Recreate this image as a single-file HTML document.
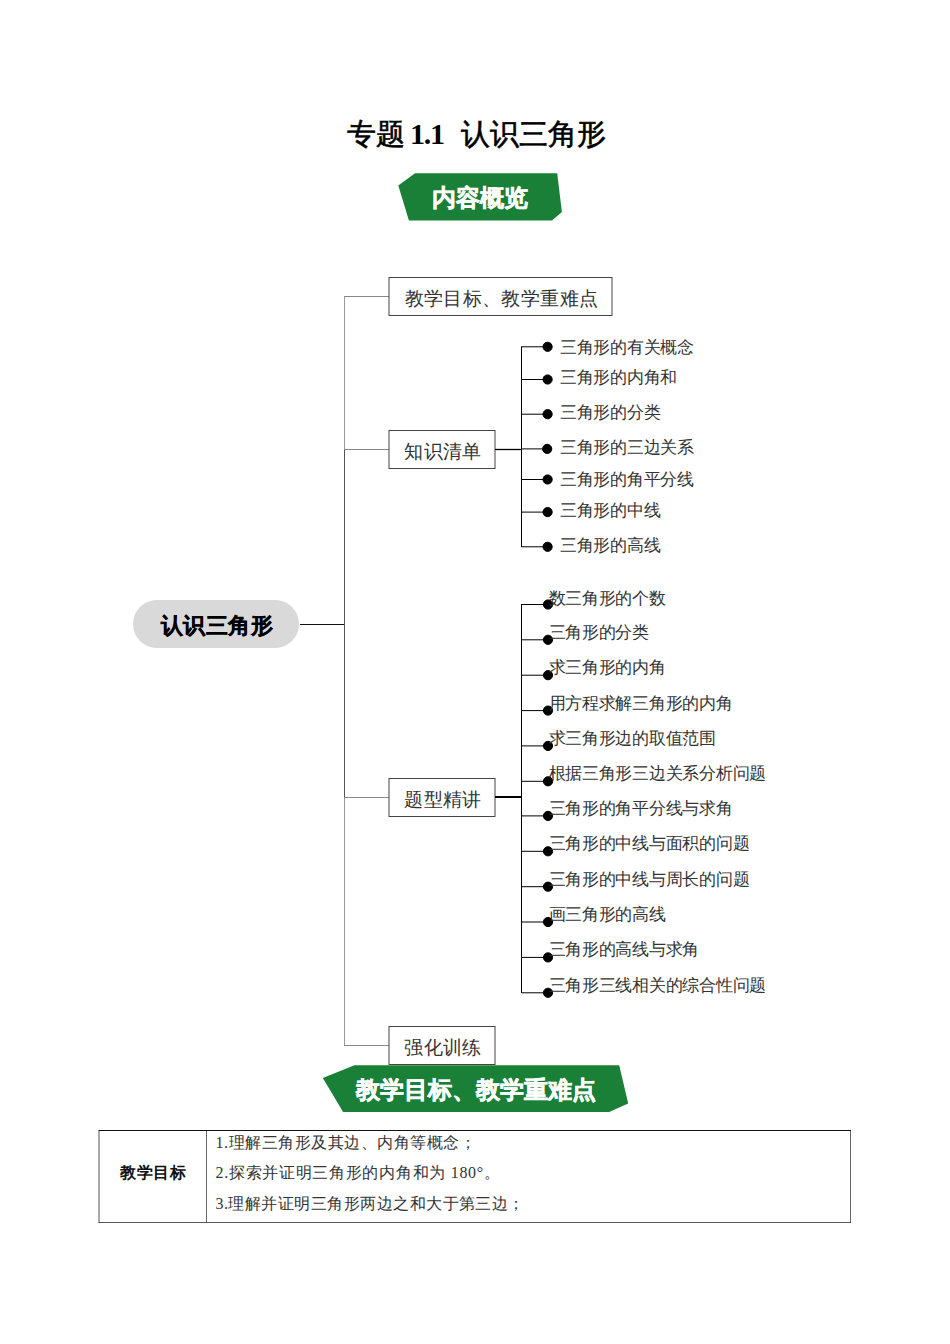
<!DOCTYPE html>
<html>
<head>
<meta charset="utf-8">
<style>
html,body{margin:0;padding:0;background:#fff;}
body{width:950px;height:1344px;position:relative;overflow:hidden;font-family:"Liberation Serif",serif;color:#000;}
.t{position:absolute;white-space:nowrap;line-height:20px;height:20px;}
.c{text-align:center;}
svg{position:absolute;left:0;top:0;}
.title{position:absolute;top:114px;white-space:nowrap;font-size:29px;font-weight:bold;line-height:40px;}
.ban{color:#fff;font-family:"Liberation Sans",sans-serif;font-weight:bold;font-size:24px;line-height:30px;-webkit-text-stroke:0.5px #fff;}
.tc{font-weight:normal;-webkit-text-stroke:0.6px #000;}
.num{font-size:30px;letter-spacing:-1.2px;}
.root{position:absolute;left:133.2px;top:599.7px;width:166.2px;height:48.6px;border-radius:24.3px;text-indent:1px;background:#d9d9d9;font-family:"Liberation Sans",sans-serif;font-weight:bold;font-size:22px;line-height:52px;letter-spacing:0.5px;-webkit-text-stroke:0.3px #000;text-align:center;}
.box{font-size:19px;letter-spacing:0.4px;color:#333;}
.li{font-size:17px;letter-spacing:-0.27px;color:#333;}
.tb{font-size:16px;letter-spacing:0.55px;color:#333;}
</style>
</head>
<body>
<div class="title tc" style="left:347px;">专题</div><div class="title num" style="left:410px;">1.1</div><div class="title tc" style="left:461px;">认识三角形</div>

<svg width="950" height="1344" viewBox="0 0 950 1344">
  <!-- banners -->
  <polygon points="415,173.3 398.3,185.4 408.9,220.4 552,220.4 561.9,211.9 557.2,173.3" fill="#1a8037"/>
  <polygon points="354.5,1065.2 322.8,1078 343.1,1112 609.2,1112 628.2,1103.6 619.2,1065.2" fill="#1a8037"/>

  <!-- root connector -->
  <line x1="300" y1="624.5" x2="344.5" y2="624.5" stroke="#111" stroke-width="1.2"/>
  <!-- trunk -->
  <line x1="344.5" y1="296" x2="344.5" y2="449.5" stroke="#999" stroke-width="1"/>
  <line x1="344.5" y1="449.5" x2="344.5" y2="797" stroke="#555" stroke-width="1"/>
  <line x1="344.5" y1="797" x2="344.5" y2="1046" stroke="#999" stroke-width="1"/>
  <line x1="344" y1="296.5" x2="389" y2="296.5" stroke="#888" stroke-width="1"/>
  <line x1="344" y1="449.5" x2="389" y2="449.5" stroke="#888" stroke-width="1"/>
  <line x1="344" y1="797.5" x2="389" y2="797.5" stroke="#888" stroke-width="1"/>
  <line x1="344" y1="1045.5" x2="389" y2="1045.5" stroke="#888" stroke-width="1"/>

  <!-- boxes -->
  <rect x="389" y="277.5" width="223" height="38" fill="#fff" stroke="#444" stroke-width="1"/>
  <rect x="389" y="430.5" width="106" height="38" fill="#fff" stroke="#444" stroke-width="1"/>
  <rect x="389" y="778.5" width="106" height="38" fill="#fff" stroke="#444" stroke-width="1"/>
  <rect x="389" y="1026.5" width="106" height="38" fill="#fff" stroke="#444" stroke-width="1"/>

  <!-- knowledge branch -->
  <line x1="495" y1="449.5" x2="521.5" y2="449.5" stroke="#000" stroke-width="1.3"/>
  <line x1="521.5" y1="346.5" x2="521.5" y2="547" stroke="#000" stroke-width="1"/>
  <g stroke="#000" stroke-width="1" fill="#000">
    <line x1="521.5" y1="346.8" x2="547" y2="346.8"/><circle cx="547.6" cy="346.8" r="4.6"/>
    <line x1="521.5" y1="379.5" x2="547" y2="379.5"/><circle cx="547.6" cy="379.5" r="4.6"/>
    <line x1="521.5" y1="414.2" x2="547" y2="414.2"/><circle cx="547.6" cy="414.2" r="4.6"/>
    <line x1="521.5" y1="448.9" x2="547" y2="448.9"/><circle cx="547.2" cy="448.9" r="4.6"/>
    <line x1="521.5" y1="479.5" x2="547" y2="479.5"/><circle cx="547.6" cy="479.5" r="4.6"/>
    <line x1="521.5" y1="512.1" x2="547" y2="512.1"/><circle cx="547.6" cy="512.1" r="4.6"/>
    <line x1="521.5" y1="546.8" x2="547" y2="546.8"/><circle cx="547.6" cy="546.8" r="4.6"/>
  </g>

  <!-- question branch -->
  <line x1="495" y1="797" x2="522" y2="797" stroke="#000" stroke-width="2"/>
  <line x1="521.5" y1="604" x2="521.5" y2="993" stroke="#000" stroke-width="1"/>
  <g stroke="#000" stroke-width="1" fill="#000" id="qb">
    <line x1="521.5" y1="604.5" x2="547" y2="604.5"/><circle cx="548" cy="604.5" r="4.6"/>
    <line x1="521.5" y1="639.8" x2="547" y2="639.8"/><circle cx="548" cy="639.8" r="4.6"/>
    <line x1="521.5" y1="675.2" x2="547" y2="675.2"/><circle cx="548" cy="675.2" r="4.6"/>
    <line x1="521.5" y1="710.6" x2="547" y2="710.6"/><circle cx="548" cy="710.6" r="4.6"/>
    <line x1="521.5" y1="745.9" x2="547" y2="745.9"/><circle cx="548" cy="745.9" r="4.6"/>
    <line x1="521.5" y1="781.3" x2="547" y2="781.3"/><circle cx="548" cy="781.3" r="4.6"/>
    <line x1="521.5" y1="815.9" x2="547" y2="815.9"/><circle cx="548" cy="815.9" r="4.6"/>
    <line x1="521.5" y1="851.3" x2="547" y2="851.3"/><circle cx="548" cy="851.3" r="4.6"/>
    <line x1="521.5" y1="886.7" x2="547" y2="886.7"/><circle cx="548" cy="886.7" r="4.6"/>
    <line x1="521.5" y1="922" x2="547" y2="922"/><circle cx="548" cy="922" r="4.6"/>
    <line x1="521.5" y1="957.4" x2="547" y2="957.4"/><circle cx="548" cy="957.4" r="4.6"/>
    <line x1="521.5" y1="992.8" x2="547" y2="992.8"/><circle cx="548" cy="992.8" r="4.6"/>
  </g>

  <!-- table -->
  <line x1="99" y1="1130.5" x2="99" y2="1222.5" stroke="#555" stroke-width="1"/>
  <line x1="850.5" y1="1130.5" x2="850.5" y2="1222.5" stroke="#666" stroke-width="1"/>
  <line x1="206.5" y1="1130.5" x2="206.5" y2="1222.5" stroke="#666" stroke-width="1"/>
  <line x1="98.5" y1="1130.5" x2="851" y2="1130.5" stroke="#111" stroke-width="1"/>
  <line x1="98.5" y1="1222.5" x2="851" y2="1222.5" stroke="#555" stroke-width="1"/>
</svg>

<div class="t c ban" style="left:398px;top:183px;width:163px;">内容概览</div>
<div class="t c ban" style="left:323px;top:1075px;width:305px;">教学目标、教学重难点</div>

<div class="root">认识三角形</div>

<div class="t c box" style="left:390px;top:288.7px;width:223px;">教学目标、教学重难点</div>
<div class="t c box" style="left:390px;top:441.8px;width:106px;">知识清单</div>
<div class="t c box" style="left:390px;top:789.7px;width:106px;">题型精讲</div>
<div class="t c box" style="left:390px;top:1037.7px;width:106px;">强化训练</div>

<div class="t li" style="left:560px;top:338px;">三角形的有关概念</div>
<div class="t li" style="left:560px;top:368px;">三角形的内角和</div>
<div class="t li" style="left:560px;top:403px;">三角形的分类</div>
<div class="t li" style="left:560px;top:438px;">三角形的三边关系</div>
<div class="t li" style="left:560px;top:470px;">三角形的角平分线</div>
<div class="t li" style="left:560px;top:501px;">三角形的中线</div>
<div class="t li" style="left:560px;top:536px;">三角形的高线</div>

<div class="t li" style="left:548.5px;top:589px;">数三角形的个数</div>
<div class="t li" style="left:548.5px;top:623px;">三角形的分类</div>
<div class="t li" style="left:548.5px;top:658px;">求三角形的内角</div>
<div class="t li" style="left:548.5px;top:694px;">用方程求解三角形的内角</div>
<div class="t li" style="left:548.5px;top:729px;">求三角形边的取值范围</div>
<div class="t li" style="left:548.5px;top:764px;">根据三角形三边关系分析问题</div>
<div class="t li" style="left:548.5px;top:799px;">三角形的角平分线与求角</div>
<div class="t li" style="left:548.5px;top:834px;">三角形的中线与面积的问题</div>
<div class="t li" style="left:548.5px;top:870px;">三角形的中线与周长的问题</div>
<div class="t li" style="left:548.5px;top:905px;">画三角形的高线</div>
<div class="t li" style="left:548.5px;top:940px;">三角形的高线与求角</div>
<div class="t li" style="left:548.5px;top:976px;">三角形三线相关的综合性问题</div>

<div class="t c tb" style="left:100px;top:1162.5px;width:107px;font-family:'Liberation Sans',sans-serif;font-weight:bold;color:#111;">教学目标</div>
<div class="t tb" style="left:215.5px;top:1133px;letter-spacing:0.5px;">1.理解三角形及其边、内角等概念；</div>
<div class="t tb" style="left:215.5px;top:1162.5px;letter-spacing:0.7px;">2.探索并证明三角形的内角和为 180°。</div>
<div class="t tb" style="left:215.5px;top:1194px;letter-spacing:0.47px;">3.理解并证明三角形两边之和大于第三边；</div>
</body>
</html>
